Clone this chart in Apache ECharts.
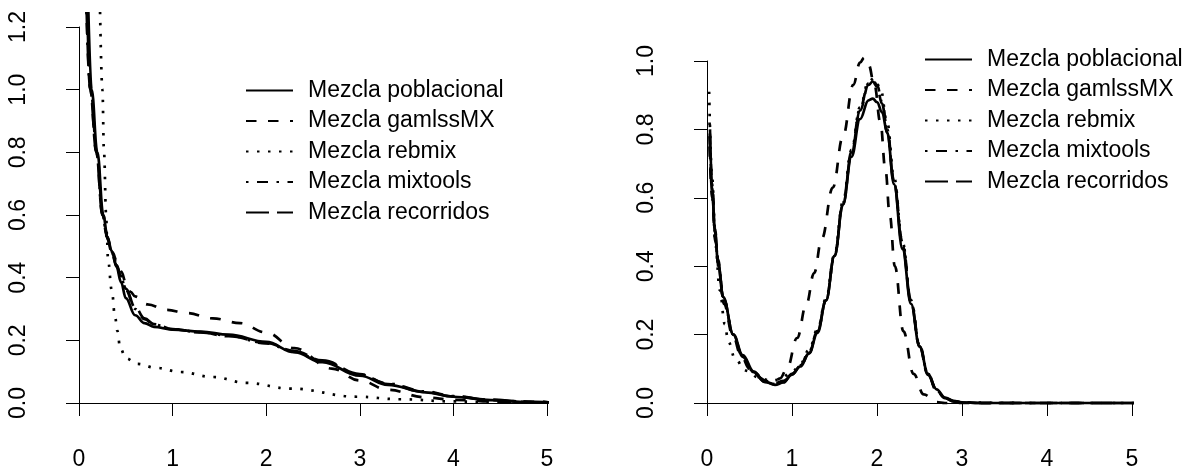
<!DOCTYPE html>
<html>
<head>
<meta charset="utf-8">
<script src="https://cdn.jsdelivr.net/npm/echarts@6/dist/echarts.min.js"></script>
<style>
  html, body { margin: 0; padding: 0; background: #fff; }
  #chart { width: 1202px; height: 472px; }
</style>
</head>
<body>
<div id="chart"></div>
<script>
// series names (legend order)
var names = ['Mezcla poblacional', 'Mezcla gamlssMX', 'Mezcla rebmix', 'Mezcla mixtools', 'Mezcla recorridos']

// ---- left panel ----
var xPobL = [0.10, 0.135, 0.196, 0.26, 0.303, 0.35, 0.40, 0.45, 0.50, 0.60, 0.70, 0.80, 1.0, 1.3, 1.6, 2.0, 2.3, 2.6, 3.0, 3.3, 3.7, 4.0, 4.4, 4.8, 5.2]
var yPobL = [1.248, 1.0, 0.80, 0.60, 0.53, 0.485, 0.435, 0.385, 0.335, 0.28, 0.255, 0.243, 0.234, 0.228, 0.218, 0.195, 0.162, 0.13, 0.087, 0.058, 0.034, 0.02, 0.009, 0.003, 0.001]
var xGamL = [0.088, 0.125, 0.19, 0.255, 0.31, 0.36, 0.40, 0.45, 0.50, 0.55, 0.60, 0.73, 0.94, 1.15, 1.43, 1.72, 2.0, 2.3, 2.7, 3.0, 3.3, 3.7, 4.0, 4.5, 5.2]
var yGamL = [1.248, 1.0, 0.80, 0.60, 0.52, 0.48, 0.455, 0.42, 0.385, 0.355, 0.34, 0.315, 0.297, 0.287, 0.27, 0.255, 0.225, 0.175, 0.11, 0.072, 0.042, 0.018, 0.01, 0.004, 0.001]
var xRebL = [0.225, 0.25, 0.267, 0.29, 0.30, 0.31, 0.35, 0.385, 0.41, 0.44, 0.50, 0.62, 0.83, 1.08, 1.43, 1.79, 2.26, 2.97, 3.43, 4.0, 4.5, 5.2]
var yRebL = [1.248, 1.0, 0.80, 0.60, 0.52, 0.456, 0.36, 0.275, 0.23, 0.175, 0.143, 0.125, 0.112, 0.099, 0.083, 0.064, 0.046, 0.02, 0.012, 0.005, 0.002, 0.0005]
var xMixL = [0.08, 0.12, 0.185, 0.25, 0.30, 0.35, 0.40, 0.45, 0.50, 0.60, 0.70, 0.80, 1.0, 1.3, 1.6, 2.0, 2.3, 2.6, 3.0, 3.3, 3.7, 4.0, 4.4, 4.8, 5.2]
var yMixL = [1.248, 1.0, 0.80, 0.60, 0.53, 0.48, 0.44, 0.40, 0.36, 0.30, 0.268, 0.25, 0.235, 0.226, 0.215, 0.19, 0.163, 0.133, 0.09, 0.062, 0.037, 0.022, 0.01, 0.004, 0.001]
var xRecL = [0.082, 0.12, 0.185, 0.25, 0.30, 0.35, 0.40, 0.45, 0.50, 0.60, 0.70, 0.80, 1.0, 1.3, 1.6, 2.0, 2.3, 2.6, 3.0, 3.3, 3.7, 4.0, 4.4, 4.8, 5.2]
var yRecL = [1.248, 1.0, 0.80, 0.60, 0.53, 0.48, 0.44, 0.405, 0.365, 0.305, 0.27, 0.252, 0.236, 0.225, 0.213, 0.192, 0.166, 0.136, 0.092, 0.06, 0.035, 0.021, 0.01, 0.004, 0.001]

// ---- right panel ----
var xPobR = [0.035, 0.06, 0.094, 0.13, 0.19, 0.31, 0.42, 0.55, 0.68, 0.8, 0.9, 1.0, 1.1, 1.2, 1.3, 1.4, 1.5, 1.6, 1.7, 1.8, 1.9, 1.95, 2.0, 2.06, 2.12, 2.2, 2.3, 2.4, 2.5, 2.6, 2.7, 2.8, 2.9, 3.0, 3.2, 4.0, 5.5]
var yPobR = [0.80, 0.63, 0.50, 0.41, 0.31, 0.20, 0.14, 0.092, 0.062, 0.053, 0.06, 0.085, 0.107, 0.145, 0.205, 0.30, 0.43, 0.58, 0.72, 0.83, 0.885, 0.89, 0.88, 0.85, 0.79, 0.64, 0.45, 0.29, 0.166, 0.085, 0.04, 0.016, 0.006, 0.002, 0, 0, 0]
var xGamR = [0.03, 0.06, 0.1, 0.15, 0.2, 0.3, 0.4, 0.5, 0.6, 0.7, 0.78, 0.86, 0.94, 1.06, 1.17, 1.26, 1.35, 1.48, 1.6, 1.72, 1.8, 1.85, 1.9, 1.97, 2.04, 2.1, 2.15, 2.21, 2.31, 2.43, 2.55, 2.7, 2.8, 5.5]
var yGamR = [0.75, 0.6, 0.47, 0.37, 0.29, 0.2, 0.14, 0.1, 0.076, 0.064, 0.06, 0.072, 0.1, 0.19, 0.29, 0.38, 0.48, 0.63, 0.78, 0.93, 0.995, 1.01, 0.99, 0.93, 0.82, 0.68, 0.55, 0.40, 0.21, 0.085, 0.025, 0.003, 0, 0]
var xRebR = [0.025, 0.06, 0.1, 0.15, 0.21, 0.25, 0.33, 0.45, 0.62, 0.75, 0.85, 1.0, 1.1, 1.2, 1.3, 1.4, 1.5, 1.6, 1.7, 1.8, 1.9, 1.97, 2.04, 2.12, 2.2, 2.3, 2.4, 2.5, 2.6, 2.7, 2.8, 2.9, 3.0, 3.7]
var yRebR = [0.91, 0.66, 0.46, 0.33, 0.23, 0.18, 0.13, 0.095, 0.073, 0.065, 0.068, 0.09, 0.115, 0.155, 0.215, 0.305, 0.435, 0.59, 0.74, 0.865, 0.94, 0.95, 0.92, 0.82, 0.66, 0.47, 0.30, 0.17, 0.085, 0.037, 0.014, 0.005, 0.001, 0]
var xMixR = [0.03, 0.06, 0.094, 0.13, 0.19, 0.31, 0.42, 0.55, 0.68, 0.8, 0.9, 1.0, 1.1, 1.2, 1.3, 1.4, 1.5, 1.6, 1.7, 1.8, 1.9, 1.95, 2.0, 2.06, 2.12, 2.2, 2.3, 2.4, 2.5, 2.6, 2.7, 2.8, 2.9, 3.0, 3.2, 4.0, 5.5]
var yMixR = [0.82, 0.64, 0.51, 0.42, 0.31, 0.20, 0.135, 0.09, 0.065, 0.058, 0.065, 0.085, 0.11, 0.15, 0.21, 0.30, 0.43, 0.585, 0.735, 0.86, 0.935, 0.945, 0.93, 0.88, 0.80, 0.65, 0.47, 0.30, 0.17, 0.085, 0.038, 0.015, 0.005, 0.002, 0, 0, 0]
var xRecR = xMixR
var yRecR = [0.78, 0.62, 0.50, 0.41, 0.31, 0.20, 0.135, 0.088, 0.062, 0.055, 0.062, 0.083, 0.108, 0.145, 0.21, 0.30, 0.43, 0.58, 0.73, 0.855, 0.93, 0.94, 0.925, 0.875, 0.79, 0.645, 0.46, 0.295, 0.165, 0.082, 0.036, 0.014, 0.005, 0.002, 0, 0, 0]

// tick labels
var xTicks = [0, 1, 2, 3, 4, 5]

// line types like R's lty 1..5
var dashes = ['solid', [10.5, 11.5], [2.5, 8.5], [2.5, 8.5, 11, 8.5], [23, 8]]

var font = 'Liberation Sans, Arial, sans-serif'

function pairs (xs, ys) {
  return xs.map(function (x, i) { return [x, ys[i]] })
}

function makeSeries (i, panel, xs, ys) {
  return {
    name: names[i],
    type: 'line',
    xAxisIndex: panel,
    yAxisIndex: panel,
    data: pairs(xs, ys),
    symbol: 'none',
    smooth: 0.4,
    smoothMonotone: 'x',
    clip: false,
    lineStyle: { color: '#000', width: 2.7, type: dashes[i], cap: 'butt' },
    itemStyle: { color: '#000' }
  }
}

function xAxisOf (gridIndex) {
  return {
    type: 'value', gridIndex: gridIndex, min: 0, max: 5, interval: 1, offset: 16,
    axisLine: { show: true, lineStyle: { color: '#000', width: 1 } },
    axisTick: { show: true, length: 13, lineStyle: { color: '#000', width: 1 } },
    axisLabel: { color: '#000', fontSize: 23, fontFamily: font, margin: 29,
      formatter: function (v) { return xTicks.indexOf(v) >= 0 ? String(v) : '' } },
    splitLine: { show: false }
  }
}

function yAxisOf (gridIndex, max) {
  return {
    type: 'value', gridIndex: gridIndex, min: 0, max: max, interval: 0.2, offset: 19,
    axisLine: { show: true, lineStyle: { color: '#000', width: 1 } },
    axisTick: { show: true, length: 13, lineStyle: { color: '#000', width: 1 } },
    axisLabel: { color: '#000', fontSize: 23, fontFamily: font, margin: 30, rotate: 90,
      formatter: function (v) { return v.toFixed(1) } },
    splitLine: { show: false }
  }
}

function legendOf (left, top) {
  return {
    orient: 'vertical', left: left, top: top,
    itemWidth: 47, itemHeight: 14, itemGap: 7.5,
    data: names,
    // hide the symbol in the middle of the legend line
    itemStyle: { opacity: 0 },
    textStyle: { color: '#000', fontSize: 23, fontFamily: font, lineHeight: 22, padding: [0, 0, 0, 10] }
  }
}

var chart = echarts.init(document.getElementById('chart'))
chart.setOption({
  animation: false,
  backgroundColor: '#fff',
  grid: [
    { left: 79, right: 655, top: 27, bottom: 69, outerBoundsMode: 'none' },
    { left: 707, right: 70, top: 61, bottom: 69, outerBoundsMode: 'none' }
  ],
  xAxis: [xAxisOf(0), xAxisOf(1)],
  yAxis: [yAxisOf(0, 1.2), yAxisOf(1, 1.0)],
  legend: [legendOf(240, 74), legendOf(919, 43)],
  series: [
    makeSeries(0, 0, xPobL, yPobL),
    makeSeries(1, 0, xGamL, yGamL),
    makeSeries(2, 0, xRebL, yRebL),
    makeSeries(3, 0, xMixL, yMixL),
    makeSeries(4, 0, xRecL, yRecL),
    makeSeries(0, 1, xPobR, yPobR),
    makeSeries(1, 1, xGamR, yGamR),
    makeSeries(2, 1, xRebR, yRebR),
    makeSeries(3, 1, xMixR, yMixR),
    makeSeries(4, 1, xRecR, yRecR)
  ]
})
</script>
</body>
</html>
